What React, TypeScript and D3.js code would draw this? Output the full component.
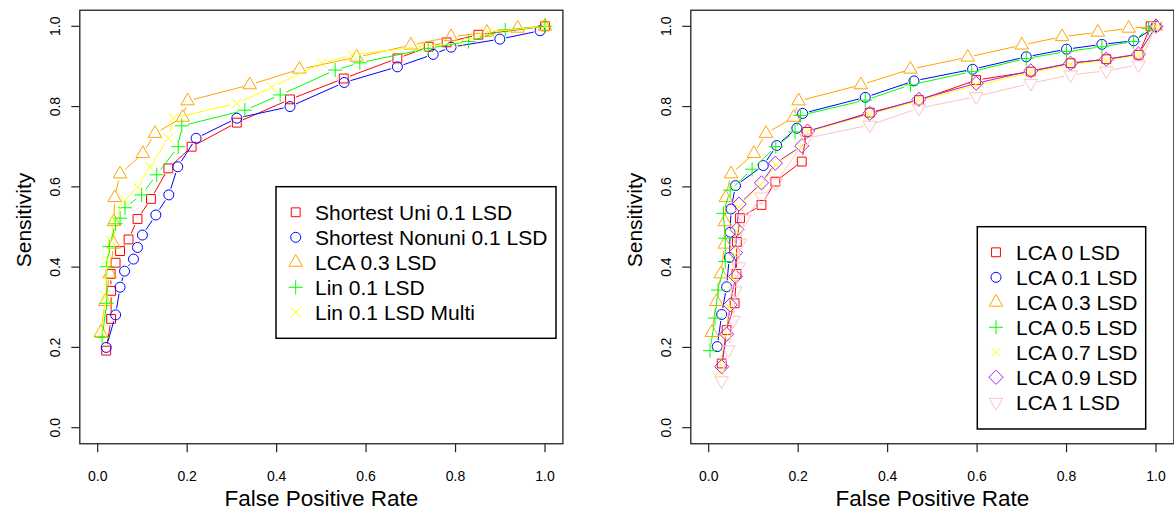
import React from 'react';
import * as d3 from 'd3';

// ---------- Data (left panel) ----------
const uniX = [0.019, 0.030, 0.030, 0.029, 0.040, 0.050, 0.069, 0.089, 0.119, 0.158, 0.210, 0.311, 0.430, 0.550, 0.670, 0.740, 0.780, 0.851, 1.0];
const uniY = [0.192, 0.271, 0.341, 0.383, 0.411, 0.440, 0.469, 0.520, 0.570, 0.646, 0.700, 0.760, 0.818, 0.870, 0.920, 0.949, 0.960, 0.979, 1.0];

const nonuniX = [0.019, 0.040, 0.050, 0.060, 0.080, 0.089, 0.100, 0.130, 0.159, 0.179, 0.220, 0.311, 0.430, 0.551, 0.670, 0.750, 0.790, 0.899, 0.989];
const nonuniY = [0.200, 0.281, 0.350, 0.390, 0.420, 0.449, 0.480, 0.530, 0.580, 0.650, 0.721, 0.771, 0.800, 0.860, 0.899, 0.930, 0.948, 0.968, 0.989];

const lca03X = [0.007, 0.017, 0.027, 0.036, 0.036, 0.038, 0.050, 0.101, 0.128, 0.190, 0.201, 0.340, 0.451, 0.579, 0.700, 0.790, 0.870, 0.939, 1.0];
const lca03Y = [0.237, 0.314, 0.383, 0.457, 0.513, 0.573, 0.632, 0.683, 0.733, 0.773, 0.814, 0.854, 0.893, 0.923, 0.953, 0.974, 0.985, 0.995, 1.0];

const linX = [0.010, 0.020, 0.020, 0.026, 0.040, 0.050, 0.061, 0.098, 0.132, 0.180, 0.188, 0.329, 0.408, 0.531, 0.586, 0.739, 0.829, 0.911, 1.0];
const linY = [0.225, 0.310, 0.401, 0.451, 0.508, 0.522, 0.548, 0.580, 0.630, 0.700, 0.752, 0.791, 0.829, 0.891, 0.909, 0.945, 0.962, 0.991, 1.0];

const multiX = [0.009, 0.018, 0.020, 0.029, 0.036, 0.060, 0.089, 0.117, 0.158, 0.169, 0.311, 0.389, 0.501, 0.568, 0.721, 0.810, 0.873, 1.0];
const multiY = [0.237, 0.326, 0.418, 0.466, 0.516, 0.566, 0.599, 0.650, 0.721, 0.771, 0.808, 0.848, 0.908, 0.929, 0.949, 0.959, 0.985, 1.0];

// ---------- Data (right panel) ----------
const lca0X = [0.029, 0.040, 0.058, 0.062, 0.063, 0.070, 0.118, 0.149, 0.208, 0.219, 0.360, 0.470, 0.598, 0.720, 0.809, 0.889, 0.961, 0.988];
const lca0Y = [0.160, 0.243, 0.310, 0.383, 0.463, 0.522, 0.555, 0.613, 0.663, 0.737, 0.785, 0.816, 0.866, 0.887, 0.908, 0.918, 0.929, 1.0];

const lca01X = [0.019, 0.029, 0.040, 0.046, 0.048, 0.050, 0.060, 0.122, 0.152, 0.197, 0.210, 0.350, 0.459, 0.590, 0.710, 0.800, 0.879, 0.950, 1.0];
const lca01Y = [0.202, 0.282, 0.351, 0.424, 0.487, 0.545, 0.603, 0.653, 0.703, 0.746, 0.783, 0.823, 0.864, 0.893, 0.924, 0.943, 0.955, 0.964, 0.999];

const lca05X = [0.003, 0.014, 0.021, 0.037, 0.037, 0.033, 0.048, 0.097, 0.150, 0.193, 0.205, 0.350, 0.451, 0.588, 0.710, 0.800, 0.879, 0.950, 0.983];
const lca05Y = [0.192, 0.273, 0.343, 0.414, 0.472, 0.534, 0.592, 0.644, 0.700, 0.737, 0.778, 0.816, 0.854, 0.887, 0.920, 0.937, 0.949, 0.962, 0.995];

const lca07X = [0.024, 0.036, 0.046, 0.055, 0.058, 0.062, 0.068, 0.115, 0.150, 0.205, 0.219, 0.358, 0.470, 0.598, 0.720, 0.809, 0.889, 0.961, 1.0];
const lca07Y = [0.140, 0.225, 0.300, 0.370, 0.430, 0.490, 0.550, 0.605, 0.655, 0.698, 0.736, 0.780, 0.815, 0.853, 0.885, 0.905, 0.915, 0.928, 1.0];

const lca09X = [0.029, 0.040, 0.048, 0.060, 0.060, 0.063, 0.068, 0.118, 0.149, 0.208, 0.221, 0.360, 0.470, 0.598, 0.720, 0.809, 0.889, 0.961, 1.0];
const lca09Y = [0.152, 0.233, 0.306, 0.377, 0.436, 0.494, 0.557, 0.610, 0.659, 0.702, 0.739, 0.783, 0.818, 0.858, 0.889, 0.908, 0.918, 0.931, 1.0];

const lca1X = [0.029, 0.044, 0.055, 0.060, 0.067, 0.070, 0.080, 0.118, 0.150, 0.219, 0.360, 0.470, 0.598, 0.720, 0.809, 0.889, 0.961, 1.0];
const lca1Y = [0.117, 0.194, 0.268, 0.341, 0.401, 0.460, 0.520, 0.575, 0.610, 0.721, 0.754, 0.796, 0.825, 0.858, 0.879, 0.889, 0.904, 1.0];

const tickValues = [0, 0.2, 0.4, 0.6, 0.8, 1.0];

const leftSeries = [
  { name: 'Shortest Uni 0.1 LSD', xs: uniX, ys: uniY, color: '#FF0000', pch: 0 },
  { name: 'Shortest Nonuni 0.1 LSD', xs: nonuniX, ys: nonuniY, color: '#0000FF', pch: 1 },
  { name: 'LCA 0.3 LSD', xs: lca03X, ys: lca03Y, color: '#FFA500', pch: 2 },
  { name: 'Lin 0.1 LSD', xs: linX, ys: linY, color: '#00FF00', pch: 3 },
  { name: 'Lin 0.1 LSD Multi', xs: multiX, ys: multiY, color: '#FFFF00', pch: 4 },
];

const rightSeries = [
  { name: 'LCA 0 LSD', xs: lca0X, ys: lca0Y, color: '#FF0000', pch: 0 },
  { name: 'LCA 0.1 LSD', xs: lca01X, ys: lca01Y, color: '#0000FF', pch: 1 },
  { name: 'LCA 0.3 LSD', xs: lca03X, ys: lca03Y, color: '#FFA500', pch: 2 },
  { name: 'LCA 0.5 LSD', xs: lca05X, ys: lca05Y, color: '#00FF00', pch: 3 },
  { name: 'LCA 0.7 LSD', xs: lca07X, ys: lca07Y, color: '#FFFF00', pch: 4 },
  { name: 'LCA 0.9 LSD', xs: lca09X, ys: lca09Y, color: '#A020F0', pch: 5 },
  { name: 'LCA 1 LSD', xs: lca1X, ys: lca1Y, color: '#FFC0CB', pch: 6 },
];

const FONT = '"Liberation Sans", Arial, Helvetica, sans-serif';
const R0 = 5;

function symbolPath(pch: number, x: number, y: number): string {
  const r = R0;
  switch (pch) {
    case 0: {
      const h = r * 0.8862;
      return `M${x - h},${y - h}H${x + h}V${y + h}H${x - h}Z`;
    }
    case 1:
      return `M${x - r},${y}A${r},${r} 0 1,0 ${x + r},${y}A${r},${r} 0 1,0 ${x - r},${y}Z`;
    case 2: {
      const t = 1.5551 * r;
      const xc = t * 0.866;
      const yc = t / 2;
      return `M${x},${y - t}L${x + xc},${y + yc}L${x - xc},${y + yc}Z`;
    }
    case 3: {
      const c = Math.SQRT2 * r;
      return `M${x - c},${y}H${x + c}M${x},${y - c}V${y + c}`;
    }
    case 4:
      return `M${x - r},${y - r}L${x + r},${y + r}M${x - r},${y + r}L${x + r},${y - r}`;
    case 5: {
      const c = Math.SQRT2 * r;
      return `M${x},${y - c}L${x + c},${y}L${x},${y + c}L${x - c},${y}Z`;
    }
    case 6: {
      const t = 1.5551 * r;
      const xc = t * 0.866;
      const yc = t / 2;
      return `M${x},${y + t}L${x + xc},${y - yc}L${x - xc},${y - yc}Z`;
    }
  }
  return '';
}

// R type="b": line segments with gaps around points
function gappedPath(pts: [number, number][], gap: number): string {
  let d = '';
  for (let i = 1; i < pts.length; i++) {
    const [x0, y0] = pts[i - 1];
    const [x1, y1] = pts[i];
    const len = Math.hypot(x1 - x0, y1 - y0);
    if (len <= 2 * gap) continue;
    const f = gap / len;
    d += `M${x0 + f * (x1 - x0)},${y0 + f * (y1 - y0)}L${x1 - f * (x1 - x0)},${y1 - f * (y1 - y0)}`;
  }
  return d;
}

type Series = { name: string; xs: number[]; ys: number[]; color: string; pch: number };

function Panel(props: {
  series: Series[];
  x0: number;
  x1: number;
  legend: { left: number; top: number; right: number; bottom: number; symX: number; textX: number; firstRow: number };
  ylabX: number;
  ytickX: number;
}) {
  const { series, x0, x1, legend, ylabX, ytickX } = props;
  const xs = d3.scaleLinear().domain([0, 1]).range([x0, x1]);
  const ys = d3.scaleLinear().domain([0, 1]).range([427.7, 26.3]);
  const boxL = xs(-0.04), boxR = xs(1.04), boxT = ys(1.04), boxB = ys(-0.04);
  const fmt = d3.format('.1f');
  const tick = 8.5;
  return (
    <g>
      {series.map((s) => {
        const pts = s.xs.map((v, i) => [xs(v), ys(s.ys[i])] as [number, number]);
        return (
          <g key={s.name}>
            <path d={gappedPath(pts, 6.5)} stroke={s.color} strokeWidth={1} fill="none" />
            {pts.map((p, i) => (
              <path key={i} d={symbolPath(s.pch, p[0], p[1])} stroke={s.color} strokeWidth={1} fill="none" />
            ))}
          </g>
        );
      })}
      <rect x={boxL} y={boxT} width={boxR - boxL} height={boxB - boxT} fill="none" stroke="#222" strokeWidth={1.3} />
      {tickValues.map((t) => (
        <g key={'x' + t}>
          <line x1={xs(t)} x2={xs(t)} y1={boxB} y2={boxB + tick} stroke="#222" strokeWidth={1.2} />
          <text x={xs(t)} y={481} fontSize={14} textAnchor="middle" fontFamily={FONT} fill="#000">{fmt(t)}</text>
        </g>
      ))}
      {tickValues.map((t) => (
        <g key={'y' + t}>
          <line x1={boxL - tick} x2={boxL} y1={ys(t)} y2={ys(t)} stroke="#222" strokeWidth={1.2} />
          <text transform={`translate(${ytickX},${ys(t)}) rotate(-90)`} fontSize={14} textAnchor="middle" fontFamily={FONT} fill="#000">{fmt(t)}</text>
        </g>
      ))}
      <text x={(boxL + boxR) / 2} y={506} fontSize={22.5} textAnchor="middle" fontFamily={FONT} fill="#000">False Positive Rate</text>
      <text transform={`translate(${ylabX},${(boxT + boxB) / 2 - 7}) rotate(-90)`} fontSize={21} textAnchor="middle" fontFamily={FONT} fill="#000">Sensitivity</text>
      <rect x={legend.left} y={legend.top} width={legend.right - legend.left} height={legend.bottom - legend.top} fill="#fff" stroke="#000" strokeWidth={1.5} />
      {series.map((s, i) => {
        const cy = legend.firstRow + i * 25;
        return (
          <g key={'lg' + s.name}>
            <path d={symbolPath(s.pch, legend.symX, cy)} stroke={s.color} strokeWidth={1} fill="none" />
            <text x={legend.textX} y={cy + 7.5} fontSize={21} fontFamily={FONT} fill="#000">{s.name}</text>
          </g>
        );
      })}
    </g>
  );
}

export default function App() {
  return (
    <svg width={1174} height={510} style={{ position: 'absolute', left: 0, top: 0, background: '#fff' }}>
      <rect x={0} y={0} width={1174} height={510} fill="#fff" />
      <Panel
        series={leftSeries}
        x0={97.7}
        x1={545}
        legend={{ left: 276, top: 186.7, right: 556, bottom: 338.3, symX: 295.7, textX: 315, firstRow: 212.3 }}
        ylabX={31}
        ytickX={60}
      />
      <Panel
        series={rightSeries}
        x0={708.7}
        x1={1156}
        legend={{ left: 977.3, top: 226.7, right: 1145.7, bottom: 429, symX: 996, textX: 1016, firstRow: 252.3 }}
        ylabX={642}
        ytickX={671}
      />
    </svg>
  );
}
